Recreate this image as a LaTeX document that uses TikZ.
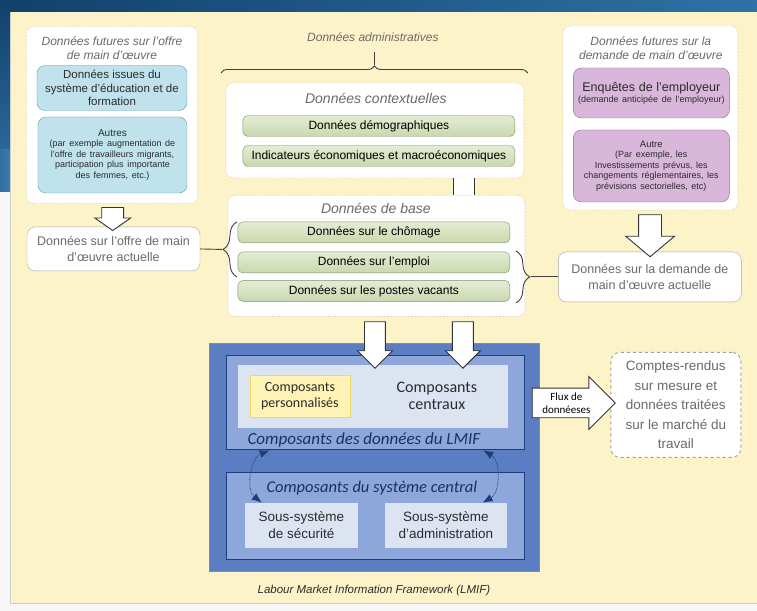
\documentclass[tikz,border=0pt]{standalone}
\usepackage{fontspec}
\setmainfont{Liberation Sans}
\newfontfamily\calibri{Carlito}
\usetikzlibrary{positioning,calc,shapes.arrows,arrows.meta,decorations.pathreplacing}

\definecolor{ardoise}{HTML}{12406B}
\definecolor{ciel}{HTML}{2E72A6}
\definecolor{creme}{HTML}{FDF3C9}
\definecolor{gristexte}{HTML}{6A6A6A}
\definecolor{foncetexte}{HTML}{2B2B2B}
\definecolor{turquoise}{HTML}{BFE2EC}
\definecolor{bordturq}{HTML}{5F9DB0}
\definecolor{vertclair}{HTML}{E4ECD3}
\definecolor{vertfonce}{HTML}{C9D8AE}
\definecolor{bordvert}{HTML}{7D8F6C}
\definecolor{mauve}{HTML}{D8B7DB}
\definecolor{bordmauve}{HTML}{8E6C92}
\definecolor{lmifcadre}{HTML}{5B7DC2}
\definecolor{lmifmoyen}{HTML}{8DA7DB}
\definecolor{lmifclair}{HTML}{DCE4F2}
\definecolor{lmifbord}{HTML}{1F3D7C}
\definecolor{jaunepale}{HTML}{FFF4B5}
\definecolor{bordjaune}{HTML}{F0D766}

\begin{document}
\begin{tikzpicture}[x=1pt, y=-1pt, font=\fontsize{11}{13}\selectfont]
\tikzstyle{groupe} = [rectangle, draw=gray!75, densely dotted, rounded corners=7pt, fill=white, inner sep=0pt]
\tikzstyle{titre} = [font=\itshape\fontsize{12}{14}\selectfont, text=gristexte, align=center]
\tikzstyle{turq} = [rectangle, draw=bordturq, fill=turquoise, rounded corners=8pt, align=center, text=foncetexte, inner sep=0pt]
\tikzstyle{mauvebox} = [rectangle, draw=bordmauve, fill=mauve, rounded corners=8pt, align=center, text=foncetexte, inner sep=0pt]
\tikzstyle{vert} = [rectangle, draw=bordvert, top color=vertclair, bottom color=vertfonce, rounded corners=5pt, minimum width=272pt, minimum height=21pt, font=\fontsize{12}{14}\selectfont, text=black, inner sep=0pt]
\tikzstyle{resultat} = [rectangle, draw=gray!70, fill=white, rounded corners=8pt, align=center, text=gristexte, font=\fontsize{12.5}{16}\selectfont, inner sep=0pt]
\tikzstyle{creuse} = [single arrow, draw=black!80, line width=0.9pt, fill=white, inner xsep=0pt, rotate=-90, single arrow head indent=0pt]
\tikzstyle{accolade} = [decorate, draw=black!75, line width=0.9pt]
\tikzstyle{lmif} = [rectangle, draw=lmifbord, line width=0.8pt, inner sep=0pt]
\tikzstyle{sousbox} = [rectangle, fill=lmifclair, minimum height=45pt, align=center, text=foncetexte, font=\fontsize{13.5}{17}\selectfont]
\tikzstyle{pointille} = [densely dotted, draw=lmifbord, thick, {Latex[length=10pt,width=8pt]}-{Latex[length=10pt,width=8pt]}]

% fond de la diapositive
\fill[gray!6] (0,0) rectangle (757,611);
\shade[left color=ardoise, right color=ciel] (0,0) rectangle (757,12);
\shade[top color=ardoise, bottom color=ciel] (0,0) rectangle (10,192);
\shade[left color=ciel, right color=ciel!80!white] (0,150) rectangle (37,192);
\fill[creme] (10,12) rectangle (757,603);
\draw[gray!40] (10,12) -- (10,603) -- (757,603);
\useasboundingbox (0,0) rectangle (757,611);

% offre future
\node[groupe, minimum width=171pt, minimum height=177pt] (fut1) at (112,115) {};
\node[titre] (tfut1) at (112,48) {Données futures sur l'offre\\de main d'œuvre};
\node[turq, minimum width=150pt, minimum height=45pt, font=\fontsize{11.5}{13.5}\selectfont] (educ) at (112,88) {Données issues du\\système d'éducation et de\\formation};
\node[turq, minimum width=149pt, minimum height=76pt, text width=149pt] (autres) at (112.5,155) {{\fontsize{10}{12}\selectfont Autres\par}{\fontsize{9}{10.5}\selectfont (par exemple augmentation de\\l'offre de travailleurs migrants,\\participation plus importante\\des femmes, etc.)\par}};
\node[resultat, minimum width=173pt, minimum height=44pt] (offre) at (113.5,249) {Données sur l'offre de main\\d'œuvre actuelle};
\node[creuse, minimum height=23pt, inner ysep=10.5pt, single arrow head extend=7pt, single arrow tip angle=110] at ($(fut1.south)!0.5!(offre.north)$) {};

% donnees administratives
\node[titre] (admin) at (373,37) {Données administratives};
\coordinate (piquet) at (375,52);
\coordinate (pointe) at (375,65);
\draw[accolade, decoration={brace, amplitude=7pt}] (221,73) -- (528,73);
\draw[accolade] (piquet) -- (pointe);

\node[groupe, minimum width=298pt, minimum height=95pt] (ctx) at (375,130.5) {};
\node[titre, font=\itshape\fontsize{14}{16}\selectfont] (tctx) at (376,98) {Données contextuelles};
\node[vert] (demo) at (379,126) {Données démographiques};
\node[vert] (indic) at (379,156) {Indicateurs économiques et macroéconomiques};

\node[groupe, minimum width=297pt, minimum height=121pt] (base) at (376.5,256) {};
\fill[white] (453,0 |- ctx.south) rectangle (474,0 |- base.north);
\draw[black!80] (453,0 |- ctx.south) -- (453,0 |- base.north) (474,0 |- ctx.south) -- (474,0 |- base.north);
\node[titre, font=\itshape\fontsize{14}{16}\selectfont] (tbase) at (376,208) {Données de base};
\node[vert] (chom) at (374,232.5) {Données sur le chômage};
\node[vert] (empl) at (374,262.5) {Données sur l'emploi};
\node[vert] (vac) at (374,291) {Données sur les postes vacants};

% demande future
\node[groupe, minimum width=175pt, minimum height=184pt] (fut2) at (650.5,118) {};
\node[titre] (tfut2) at (651,48) {Données futures sur la\\demande de main d'œuvre};
\node[mauvebox, minimum width=156pt, minimum height=50pt, text width=156pt] (enq) at (651.5,93) {{\fontsize{12.5}{15}\selectfont Enquêtes de l'employeur\par}{\fontsize{9}{11}\selectfont (demande anticipée de l'employeur)\par}};
\node[mauvebox, minimum width=156pt, minimum height=72pt, text width=156pt] (autre2) at (651.5,166) {{\fontsize{9.5}{11}\selectfont Autre\par}{\fontsize{9}{10.5}\selectfont (Par exemple, les\\Investissements prévus, les\\changements réglementaires, les\\prévisions sectorielles, etc)\par}};
\node[resultat, minimum width=183pt, minimum height=50pt] (demande) at (650,277) {Données sur la demande de\\main d'œuvre actuelle};
\node[creuse, minimum height=42pt, inner ysep=11pt, single arrow head extend=13pt, single arrow tip angle=100] at ($(fut2.south)!0.5!(demande.north)$) {};

% accolades laterales
\coordinate (gpointe) at (222,249.5);
\coordinate (dpointe) at (531,277);
\draw[accolade, decoration={brace, amplitude=14pt}] (237,277) -- (237,222);
\draw[accolade, decoration={brace, amplitude=14pt}] (516,251) -- (516,303);
\draw[accolade] (offre.east) -- (gpointe);
\draw[accolade] (dpointe) -- (demande.west);

% LMIF
\node[lmif, draw=lmifbord!60, fill=lmifcadre, minimum width=331pt, minimum height=229pt] (cadre) at (374.5,457.5) {};
\node[lmif, fill=lmifmoyen, minimum width=299pt, minimum height=95pt] (donnees) at (375.5,402.5) {};
\node[rectangle, fill=lmifclair, minimum width=270pt, minimum height=63pt] (panneau) at (373,396.5) {};
\node[rectangle, draw=bordjaune, fill=jaunepale, minimum width=100pt, minimum height=42pt, align=center, text=foncetexte, font=\calibri\fontsize{14}{15.5}\selectfont] (perso) at (300,396) {Composants\\personnalisés};
\node[align=center, text=foncetexte, font=\calibri\fontsize{16}{17}\selectfont] (centraux) at (437,396) {Composants\\centraux};
\node[text=lmifbord!80!black, font=\calibri\itshape\fontsize{17}{19}\selectfont] (tdonnees) at (364,440) {Composants des données du LMIF};
\node[lmif, fill=lmifmoyen, minimum width=299pt, minimum height=87pt] (systeme) at (375.5,516.5) {};
\node[text=lmifbord!80!black, font=\calibri\itshape\fontsize{16.5}{18}\selectfont] (tsysteme) at (372,488) {Composants du système central};
\node[sousbox, minimum width=113pt] (secu) at (301.5,525.5) {Sous-système\\de sécurité};
\node[sousbox, minimum width=122pt] (adm) at (446,525.5) {Sous-système\\d'administration};
\draw[pointille] ($(secu.north west)!0.15!(secu.north east)$) to[bend left=60] ($(donnees.south west)!0.147!(donnees.south east)$);
\draw[pointille] ($(adm.north west)!0.8!(adm.north east)$) to[bend right=60] ($(donnees.south west)!0.86!(donnees.south east)$);

% fleches vers le LMIF
\coordinate (entree1) at (375,363);
\coordinate (entree2) at (463,363);
\node[creuse, minimum height=46.5pt, inner ysep=10pt, single arrow head extend=7pt, single arrow tip angle=90] at ($(base.south -| entree1)!0.5!(entree1)$) {};
\node[creuse, minimum height=46.5pt, inner ysep=10pt, single arrow head extend=7pt, single arrow tip angle=90] at ($(base.south -| entree2)!0.5!(entree2)$) {};

% sortie
\node[rectangle, draw=gray!75, dashed, line width=0.9pt, fill=white, rounded corners=9pt, minimum width=130pt, minimum height=105pt, align=center, text=gristexte, font=\fontsize{13.5}{19.5}\selectfont] (rapports) at (676,405) {Comptes-rendus\\sur mesure et\\données traitées\\sur le marché du\\travail};
\node[single arrow, draw=black!80, line width=0.9pt, fill=white, inner xsep=2pt, inner ysep=4pt, minimum height=83pt, single arrow head extend=11.5pt, single arrow tip angle=90, align=center, font=\calibri\fontsize{11}{13}\selectfont] (flux) at (566.5,403) {Flux de\\donnéeses};

\node[font=\itshape\fontsize{11.5}{13}\selectfont, text=foncetexte] (legende) at (374,591) {Labour Market Information Framework (LMIF)};
\end{tikzpicture}
\end{document}
